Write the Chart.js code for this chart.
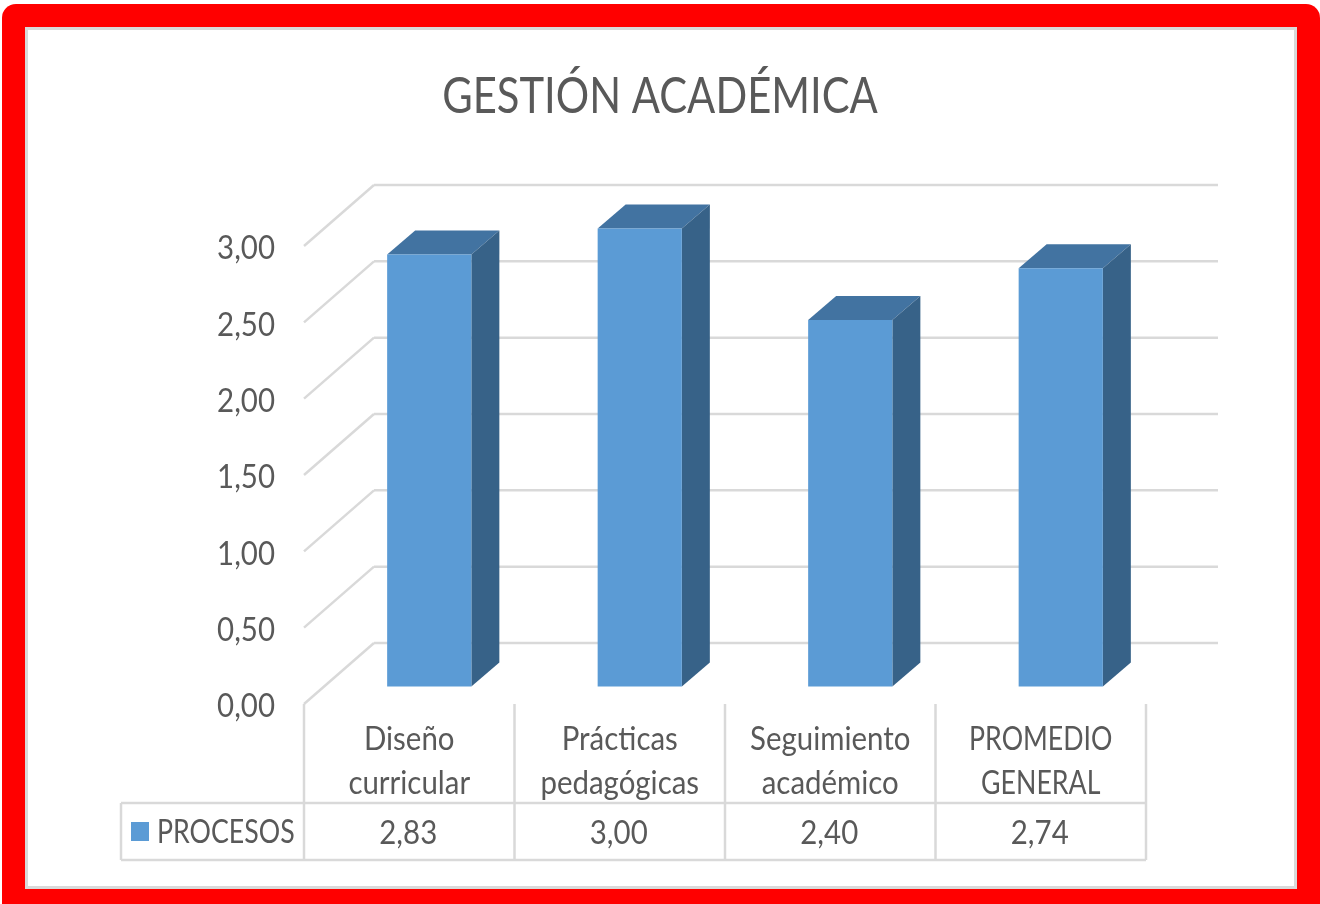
<!DOCTYPE html>
<html>
<head>
<meta charset="utf-8">
<title>Gestión académica</title>
<script src="https://cdn.jsdelivr.net/npm/chart.js@4"></script>
<style>
    html, body { margin: 0; padding: 0; background: #fff; }
    #marco {
        position: absolute; left: 2px; top: 4px; width: 1318px; height: 900px;
        background: #ff0000; border-radius: 14px 14px 0 0;
    }
    #painel {
        position: absolute; left: 25px; top: 27px; width: 1266px; height: 856px;
        background: #fff; border: 3px solid #d9d9d9;
    }
    #grafico { position: absolute; left: 0; top: 0; filter: blur(0.6px); }
</style>
</head>
<body>
<div id="marco"></div>
<div id="painel"></div>
<canvas id="grafico" width="1320" height="904"></canvas>
<script>
var titulo = "GESTIÓN ACADÉMICA";
var categorias = [["Diseño", "curricular"], ["Prácticas", "pedagógicas"], ["Seguimiento", "académico"], ["PROMEDIO", "GENERAL"]];
var nomeSerie = "PROCESOS";
var valores = [2.83, 3.00, 2.40, 2.74];

var corTexto = "#595959";
var corGrade = "#d9d9d9";
var corFrente = "#5b9bd5";
var corTopo = "#4273a1";
var corLado = "#376288";
var fonte = "Lato";

// deslocamentos da perspectiva (frente -> parede do fundo, e barra)
var fundoX = 70, fundoY = -61;
var barraX = 20, barraY = -17.5;
var profX = 28, profY = -24;

function formatar(v) {
    return Number(v).toFixed(2).replace(".", ",");
}

function linha(ctx, x1, y1, x2, y2) {
    ctx.beginPath();
    ctx.moveTo(x1, y1);
    ctx.lineTo(x2, y2);
    ctx.stroke();
}

function poligono(ctx, pontos, cor) {
    ctx.fillStyle = cor;
    ctx.beginPath();
    ctx.moveTo(pontos[0][0], pontos[0][1]);
    for (var i = 1; i < pontos.length; i++) {
        ctx.lineTo(pontos[i][0], pontos[i][1]);
    }
    ctx.closePath();
    ctx.fill();
}

// a imagem original tem o texto mais estreito e alto que o Lato
function estreitarTexto(ctx) {
    var original = ctx.fillText;
    ctx.fillText = function (texto, x, y) {
        var soMaiusculas = texto === texto.toUpperCase() && !/\d/.test(texto);
        var k = soMaiusculas ? 0.835 : 0.92;
        this.save();
        this.translate(x, y + 3);
        this.scale(k, 1);
        original.call(this, texto, 0, 0);
        this.restore();
    };
}

var plugin3d = {
    id: "plugin3d",
    beforeDatasetsDraw: function (chart) {
        var ctx = chart.ctx;
        var area = chart.chartArea;
        var y = chart.scales.y;

        ctx.save();
        ctx.strokeStyle = corGrade;
        ctx.lineWidth = 2.5;
        y.ticks.forEach(function (t) {
            var py = y.getPixelForValue(t.value);
            linha(ctx, area.left, py, area.left + fundoX, py + fundoY);
            linha(ctx, area.left + fundoX, py + fundoY, area.right + fundoX + 2, py + fundoY);
        });
        ctx.restore();

        ctx.save();
        ctx.translate(barraX, barraY);
        chart.getDatasetMeta(0).data.forEach(function (b) {
            var esq = b.x - b.width / 2;
            var dir = b.x + b.width / 2;
            poligono(ctx, [[esq, b.y], [esq + profX, b.y + profY], [dir + profX, b.y + profY], [dir, b.y]], corTopo);
            poligono(ctx, [[dir, b.y], [dir + profX, b.y + profY], [dir + profX, b.base + profY], [dir, b.base]], corLado);
        });
    },
    afterDatasetsDraw: function (chart) {
        chart.ctx.restore();
    },
    afterDraw: function (chart) {
        // tabela de dados embaixo do eixo
        var ctx = chart.ctx;
        var area = chart.chartArea;
        var x = chart.scales.x;
        var largura = x.getPixelForTick(1) - x.getPixelForTick(0);
        var yLinha1 = 803, yLinha2 = 860, xTabela = 121;

        ctx.save();
        ctx.strokeStyle = corGrade;
        ctx.lineWidth = 2.5;
        for (var i = 0; i <= categorias.length; i++) {
            var px = area.left + i * largura;
            linha(ctx, px, area.bottom, px, yLinha2);
        }
        linha(ctx, xTabela, yLinha1, area.right, yLinha1);
        linha(ctx, xTabela, yLinha2, area.right, yLinha2);
        linha(ctx, xTabela, yLinha1, xTabela, yLinha2);

        ctx.fillStyle = corFrente;
        ctx.fillRect(131, 822, 18, 19);

        ctx.fillStyle = corTexto;
        ctx.font = "32px " + fonte;
        ctx.textBaseline = "middle";
        ctx.textAlign = "left";
        ctx.fillText(nomeSerie, 157, 830);
        ctx.textAlign = "center";
        valores.forEach(function (v, i) {
            ctx.fillText(formatar(v), x.getPixelForTick(i) - 1, 831);
        });
        ctx.restore();
    }
};

var grafico = new Chart(document.getElementById("grafico"), {
    type: "bar",
    data: {
        labels: categorias,
        datasets: [{
            label: nomeSerie,
            data: valores,
            backgroundColor: corFrente,
            categoryPercentage: 1,
            barPercentage: 0.4,
            clip: false
        }]
    },
    plugins: [plugin3d],
    options: {
        responsive: false,
        animation: false,
        layout: { padding: 0 },
        plugins: {
            legend: { display: false },
            tooltip: { enabled: false },
            title: {
                display: true,
                text: titulo,
                color: corTexto,
                font: { family: fonte, size: 50, weight: "normal", lineHeight: "52px" },
                padding: { top: 68, bottom: 126 }
            }
        },
        scales: {
            x: {
                grid: { display: false, drawTicks: false },
                border: { display: false },
                afterFit: function (escala) { escala.height = 200; },
                ticks: {
                    color: corTexto,
                    maxRotation: 0,
                    autoSkip: false,
                    padding: 11,
                    font: { family: fonte, size: 32, lineHeight: "44px" }
                }
            },
            y: {
                min: 0,
                max: 3,
                grid: { display: false, drawTicks: false },
                border: { display: false },
                afterFit: function (escala) { escala.width = 304; },
                ticks: {
                    stepSize: 0.5,
                    color: corTexto,
                    padding: 29,
                    font: { family: fonte, size: 32 },
                    callback: function (v) { return formatar(v); }
                }
            },
            // eixo vazio: so reserva a margem direita e deixa o titulo centrado no canvas
            margem: {
                type: "linear",
                position: "right",
                grid: { display: false, drawTicks: false },
                border: { display: false },
                ticks: { display: false },
                afterFit: function (escala) { escala.width = 174; }
            }
        }
    }
});

estreitarTexto(grafico.ctx);
grafico.update();
</script>
</body>
</html>
